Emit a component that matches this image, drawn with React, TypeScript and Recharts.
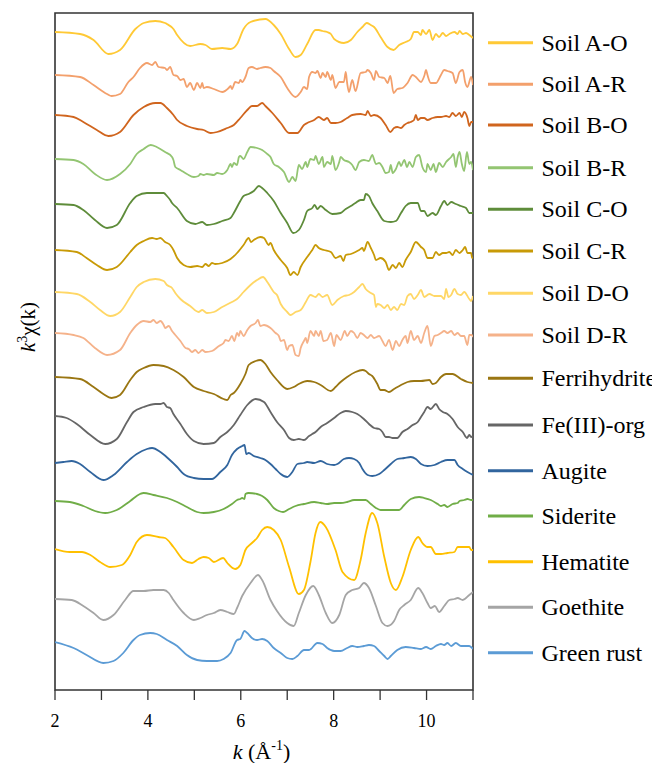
import React from "react";
import { LineChart, Line, XAxis, YAxis, ReferenceArea } from "recharts";

const FONT = "'Liberation Serif', 'Times New Roman', 'DejaVu Serif', serif";

// ---- categories / labels ----
const seriesNames = [
  "Soil A-O", "Soil A-R", "Soil B-O", "Soil B-R", "Soil C-O", "Soil C-R", "Soil D-O", "Soil D-R",
  "Ferrihydrite", "Fe(III)-org", "Augite", "Siderite", "Hematite", "Goethite", "Green rust",
];
const seriesColors = [
  "#FFC935", "#F3A06C", "#D0651E", "#93C572", "#5E8C3A", "#C89A06", "#FFD766", "#F5B28A",
  "#9A7612", "#666666", "#31659E", "#70AD47", "#FFC000", "#A5A5A5", "#5B9BD5",
];
// vertical offset of each spectrum (stacking baseline)
const baselines = [658, 615, 575, 531, 486, 440, 398, 357, 313, 274, 227, 189, 141, 91, 48];
const kTicks = [2, 3, 4, 5, 6, 7, 8, 9, 10, 11];
const kLabels = [2, 4, 6, 8, 10];

// ---- spectra: k (Å^-1) and k^3 chi(k) (arbitrary units, relative to baseline) ----
const soilAO_k = [2,2.54,2.83,3.15,3.4,3.73,3.91,4.16,4.37,4.41,4.55,4.63,4.91,5.13,5.24,5.38,5.6,5.78,5.92,6.06,6.21,6.53,6.71,6.86,7.04,7.18,7.29,7.43,7.61,7.68,7.76,7.86,7.94,8.01,8.22,8.37,8.51,8.62,8.71,8.8,8.87,9.01,9.16,9.29,9.41,9.55,9.66,9.73,9.81,9.88,9.91,9.99,10.06,10.13,10.2,10.27,10.35,10.42,10.49,10.6,10.67,10.71,10.78,10.85,10.92,11];
const soilAO_v = [0,-2,-8,-22,-18,3,9,11,9,8,3,-3,-14,-12,-13,-17,-16,-17,-12,3,10,13,7,-2,-17,-25,-23,-12,2,2,1,0,-2,-7,-11,-8,0,5,9,7,5,-5,-15,-18,-13,-10,-7,0,0,-3,2,-2,2,-8,-2,-5,-1,-4,-2,0,-2,1,-2,-1,-3,-6];

const soilAR_k = [2,2.54,2.83,3.12,3.22,3.4,3.58,3.69,3.83,3.98,4.09,4.16,4.23,4.37,4.41,4.48,4.55,4.63,4.7,4.77,4.84,4.91,4.99,5.06,5.13,5.17,5.2,5.27,5.42,5.6,5.74,5.78,5.81,5.88,5.96,5.99,6.03,6.1,6.17,6.24,6.35,6.42,6.53,6.64,6.71,6.86,7.0,7.18,7.29,7.36,7.43,7.47,7.54,7.61,7.65,7.72,7.76,7.83,7.86,7.94,7.97,8.04,8.12,8.22,8.26,8.29,8.33,8.4,8.47,8.58,8.69,8.73,8.8,8.87,8.91,8.98,9.09,9.16,9.22,9.29,9.37,9.48,9.59,9.7,9.77,9.88,9.95,9.99,10.02,10.09,10.2,10.31,10.38,10.45,10.56,10.63,10.71,10.78,10.83,10.88,10.96,11];
const soilAR_v = [0,-2,-10,-19,-21,-19,-7,-2,7,12,10,13,8,7,5,8,0,-1,-5,-4,-12,-8,-15,-8,-13,-8,-13,-12,-14,-17,-13,-11,-14,-7,-8,-5,-7,-2,7,8,6,7,8,7,4,-2,-13,-22,-17,-12,-14,-2,3,2,4,-3,2,-2,3,-5,0,-13,-7,-7,3,-8,-17,-5,-16,2,3,5,2,-5,4,-2,-3,-8,-1,-18,-14,-13,-8,0,-2,-7,-1,5,0,-8,-8,0,5,4,2,-8,3,5,-7,-12,-2,-10];

const soilBO_k = [2,2.4,2.61,2.9,3.15,3.4,3.69,3.91,4.16,4.27,4.41,4.55,4.63,4.84,5.06,5.2,5.35,5.49,5.71,5.85,5.99,6.14,6.24,6.35,6.46,6.53,6.68,6.86,7.04,7.22,7.36,7.43,7.58,7.68,7.79,7.86,7.94,8.04,8.15,8.29,8.4,8.58,8.69,8.73,8.8,8.87,9.01,9.12,9.22,9.3,9.37,9.45,9.52,9.59,9.66,9.73,9.77,9.81,9.88,9.95,10.02,10.13,10.24,10.31,10.42,10.49,10.56,10.63,10.71,10.76,10.81,10.88,10.92,10.96,11];
const soilBO_v = [0,-2,-7,-15,-21,-17,0,8,12,12,7,0,-5,-11,-14,-15,-18,-17,-13,-10,-3,5,9,9,12,9,2,-8,-18,-18,-10,-8,-5,-2,-5,-3,-8,-8,-7,-3,0,1,0,4,-1,0,-3,-10,-17,-13,-12,-13,-10,-8,-7,-5,0,-5,-3,-3,-5,-3,-2,-2,-1,-2,2,-1,2,-2,3,-3,-11,-7,-7];

const soilBR_k = [2,2.4,2.61,2.86,3.12,3.4,3.62,3.76,3.91,4.06,4.19,4.37,4.52,4.55,4.59,4.7,4.84,4.99,5.09,5.13,5.2,5.27,5.42,5.49,5.6,5.71,5.78,5.81,5.85,5.92,5.96,5.99,6.06,6.14,6.21,6.35,6.46,6.57,6.64,6.71,6.82,6.93,7.04,7.11,7.18,7.25,7.32,7.4,7.43,7.5,7.58,7.61,7.68,7.76,7.79,7.86,7.94,7.97,8.04,8.12,8.15,8.22,8.33,8.4,8.47,8.55,8.65,8.76,8.83,8.91,8.98,9.05,9.12,9.19,9.23,9.27,9.34,9.41,9.45,9.52,9.58,9.63,9.7,9.77,9.84,9.91,9.99,10.02,10.09,10.15,10.2,10.27,10.35,10.42,10.53,10.58,10.63,10.67,10.71,10.76,10.81,10.87,10.92,10.96,11];
const soilBR_v = [0,-1,-5,-15,-21,-15,-5,5,10,14,12,7,2,-1,-8,-11,-15,-18,-17,-15,-16,-15,-16,-14,-15,-11,-5,-8,-4,-6,2,3,0,7,12,11,9,5,2,-5,-8,-13,-23,-18,-22,-6,-10,-3,-8,0,-1,3,-5,2,-8,-3,-5,3,-11,-3,2,-1,-3,-6,-11,-3,-1,-2,4,-5,-4,-8,-14,-13,-6,-14,-10,-3,-7,-1,-8,-3,-8,2,4,-8,-13,-5,-11,-5,-13,-4,-8,-3,2,5,-8,2,7,-5,-12,7,-5,-3,-11];

const soilCO_k = [2,2.4,2.61,2.86,3.12,3.33,3.62,3.76,3.98,4.34,4.41,4.48,4.52,4.63,4.84,5.02,5.17,5.27,5.42,5.6,5.78,5.85,5.99,6.06,6.17,6.28,6.39,6.46,6.57,6.71,6.86,7.0,7.13,7.25,7.36,7.43,7.54,7.59,7.65,7.72,7.83,7.97,8.15,8.26,8.37,8.47,8.58,8.65,8.69,8.76,8.83,8.94,9.09,9.23,9.34,9.45,9.55,9.66,9.81,9.88,9.95,10.02,10.13,10.2,10.31,10.38,10.45,10.53,10.63,10.74,10.85,10.92,11];
const soilCO_v = [0,-1,-6,-16,-24,-21,1,8,11,11,8,4,1,-4,-17,-20,-18,-21,-20,-17,-14,-9,3,8,10,13,18,16,11,3,-9,-19,-29,-26,-16,-7,-4,-1,-5,-2,-6,-10,-9,-5,-2,1,4,4,10,8,1,-7,-17,-18,-17,-9,-2,1,1,-7,-7,-12,-9,-11,-2,3,-1,2,0,-2,-4,-9,-9];

const soilCR_k = [2,2.47,2.68,2.9,3.12,3.33,3.62,3.76,3.91,4.09,4.19,4.27,4.37,4.48,4.55,4.63,4.77,4.91,5.06,5.17,5.24,5.31,5.38,5.45,5.6,5.78,5.92,6.06,6.17,6.22,6.28,6.42,6.5,6.6,6.64,6.71,6.86,7.0,7.07,7.14,7.22,7.29,7.43,7.54,7.61,7.68,7.79,7.94,8.04,8.15,8.21,8.26,8.37,8.47,8.55,8.62,8.65,8.73,8.8,8.87,8.91,9.01,9.12,9.19,9.27,9.34,9.41,9.48,9.55,9.66,9.77,9.88,9.95,10.02,10.13,10.2,10.27,10.35,10.42,10.49,10.56,10.63,10.71,10.78,10.83,10.88,10.96,10.98,11];
const soilCR_v = [0,-2,-8,-15,-20,-17,-2,5,9,12,11,12,8,5,0,-8,-15,-17,-16,-17,-14,-16,-13,-14,-13,-9,-3,5,12,8,10,13,12,5,7,0,-10,-18,-25,-22,-25,-17,-7,0,5,2,0,-2,-8,-6,-11,-5,-4,-2,0,2,-1,8,2,-5,-10,-8,-12,-20,-15,-18,-13,-17,-10,-2,8,3,0,-8,-8,-2,-5,-3,-3,-2,-5,0,-3,0,3,-3,-3,-8,-7];

const soilDO_k = [2,2.47,2.76,2.97,3.19,3.4,3.62,3.76,3.91,4.16,4.34,4.41,4.52,4.59,4.7,4.91,5.09,5.17,5.27,5.42,5.6,5.81,5.92,6.06,6.21,6.35,6.48,6.57,6.64,6.71,6.78,6.86,7.0,7.07,7.18,7.29,7.4,7.5,7.61,7.68,7.76,7.86,7.97,8.08,8.22,8.33,8.44,8.55,8.62,8.69,8.8,8.87,8.91,8.94,9.01,9.09,9.16,9.23,9.3,9.37,9.45,9.52,9.59,9.66,9.73,9.81,9.88,9.95,10.06,10.17,10.31,10.38,10.42,10.47,10.53,10.6,10.67,10.74,10.81,10.92,10.96,11];
const soilDO_v = [0,-2,-10,-18,-24,-20,-5,5,10,13,11,7,4,-1,-7,-14,-20,-18,-21,-20,-15,-10,-7,0,7,12,15,10,5,0,-3,-12,-20,-23,-20,-18,-10,-3,-5,-2,-5,-3,-13,-8,-4,-3,0,5,8,3,-1,-3,-15,-12,-13,-16,-13,-18,-15,-18,-12,-13,-4,-2,-7,-3,2,-5,-2,-4,-4,-7,3,-5,-3,3,-2,-3,0,-7,-9,-4];

const soilDR_k = [2,2.4,2.61,2.86,3.12,3.4,3.62,3.76,3.91,4.05,4.12,4.19,4.27,4.34,4.37,4.45,4.52,4.59,4.7,4.81,4.88,4.95,5.02,5.09,5.17,5.24,5.38,5.53,5.63,5.67,5.74,5.81,5.86,5.92,5.96,5.99,6.06,6.14,6.21,6.32,6.37,6.42,6.5,6.64,6.75,6.82,6.86,6.93,7.0,7.04,7.11,7.18,7.25,7.29,7.36,7.4,7.43,7.5,7.58,7.61,7.68,7.72,7.78,7.86,7.94,8.01,8.06,8.15,8.24,8.29,8.37,8.44,8.51,8.58,8.65,8.73,8.8,8.87,8.98,9.05,9.12,9.19,9.27,9.34,9.41,9.48,9.55,9.59,9.66,9.73,9.81,9.88,9.95,10.02,10.09,10.17,10.24,10.31,10.38,10.45,10.53,10.6,10.67,10.74,10.81,10.88,10.92,10.97,11];
const soilDR_v = [0,-2,-5,-15,-22,-17,0,8,12,11,13,10,12,8,5,7,2,-2,-8,-15,-16,-19,-17,-20,-17,-19,-18,-13,-10,-7,-8,-3,-8,0,-3,2,-3,3,7,10,13,7,8,5,0,-3,-8,-7,-17,-13,-12,-22,-23,-15,-8,-5,-10,2,-3,2,-3,2,-8,-7,0,-13,-2,-7,2,-3,2,0,-5,0,-2,-5,-2,-5,-3,-8,-13,-7,-17,-8,-13,-7,-3,-10,2,-7,-3,-10,0,7,-13,-3,-2,0,2,0,2,-2,0,-3,-3,-12,-2,-2,-4];

const ferri_k = [2,2.54,2.83,3.04,3.22,3.4,3.62,3.76,3.91,4.12,4.34,4.55,4.77,4.99,5.2,5.42,5.63,5.71,5.78,5.85,5.99,6.1,6.17,6.32,6.42,6.53,6.64,6.78,7.0,7.14,7.25,7.43,7.58,7.72,7.94,8.04,8.15,8.29,8.47,8.62,8.69,8.76,8.83,8.94,9.01,9.09,9.19,9.3,9.45,9.59,9.73,9.88,10.06,10.13,10.2,10.31,10.42,10.56,10.74,10.88,11];
const ferri_v = [0,-2,-10,-17,-21,-18,-3,5,9,12,11,7,0,-10,-14,-17,-22,-23,-18,-16,-7,3,12,16,17,13,5,-3,-12,-10,-7,-4,-5,-8,-14,-10,-5,0,5,7,6,3,1,-7,-13,-13,-15,-12,-8,-5,-4,-4,-3,-7,-6,0,3,3,-2,-5,-6];

const feorg_k = [2,2.25,2.47,2.76,3.08,3.33,3.55,3.69,3.91,4.16,4.27,4.34,4.41,4.48,4.55,4.7,4.84,4.99,5.2,5.42,5.56,5.71,5.85,5.99,6.14,6.32,6.5,6.64,6.78,6.93,7.04,7.14,7.25,7.36,7.47,7.54,7.61,7.72,7.86,8.01,8.15,8.26,8.4,8.51,8.65,8.76,8.87,8.98,9.05,9.12,9.19,9.27,9.37,9.48,9.59,9.7,9.81,9.88,9.95,10.02,10.09,10.2,10.27,10.35,10.45,10.56,10.67,10.78,10.87,10.92,10.96,11];
const feorg_v = [0,-2,-8,-19,-28,-23,-6,4,9,12,12,13,9,8,2,-8,-18,-25,-28,-27,-21,-16,-9,1,11,17,14,4,-6,-14,-22,-24,-23,-24,-20,-18,-16,-11,-7,-2,3,5,4,2,-3,-8,-12,-13,-16,-21,-21,-22,-22,-16,-13,-9,-6,-1,4,9,7,12,7,4,2,-3,-11,-16,-22,-19,-21,-20];

const augite_k = [2,2.18,2.36,2.54,2.76,3.04,3.26,3.55,3.76,3.98,4.09,4.27,4.45,4.63,4.77,4.99,5.2,5.38,5.56,5.71,5.81,5.92,6.03,6.08,6.12,6.17,6.28,6.42,6.53,6.64,6.75,6.86,7.0,7.11,7.22,7.36,7.43,7.58,7.72,7.86,8.01,8.08,8.22,8.33,8.44,8.55,8.62,8.73,8.83,8.98,9.09,9.23,9.37,9.52,9.66,9.77,9.88,10.02,10.17,10.31,10.45,10.6,10.67,10.78,10.88,11];
const augite_v = [0,1,2,-1,-9,-17,-12,1,9,14,15,11,4,-4,-11,-15,-16,-16,-9,-2,8,14,17,18,9,10,7,5,3,-1,-6,-11,-14,-9,-1,0,1,0,2,-1,-2,-1,4,5,4,0,-6,-12,-13,-11,-7,-1,4,5,6,4,-1,-3,-2,1,3,3,-2,-6,-9,-12];

const siderite_k = [2,2.32,2.61,2.86,3.08,3.33,3.62,3.83,3.91,4.12,4.41,4.63,4.84,5.06,5.2,5.42,5.63,5.81,5.92,5.99,6.03,6.08,6.1,6.17,6.35,6.46,6.57,6.71,6.82,6.91,7.04,7.18,7.36,7.58,7.72,7.86,8.01,8.15,8.29,8.44,8.58,8.69,8.8,8.91,9.01,9.16,9.3,9.41,9.52,9.66,9.84,9.95,10.09,10.24,10.31,10.38,10.45,10.56,10.67,10.71,10.81,10.88,10.96,11];
const siderite_v = [0,-1,-5,-10,-12,-9,0,7,8,6,3,-1,-6,-11,-12,-11,-8,-3,1,2,3,2,7,8,7,5,1,-7,-10,-11,-8,-5,-3,-1,-2,-3,-2,-2,-1,1,1,1,-3,-7,-9,-9,-9,-9,-4,2,4,3,1,-3,-5,-4,-6,-3,-2,0,1,2,1,1];

const hematite_k = [2,2.32,2.58,2.76,2.97,3.19,3.44,3.62,3.76,3.98,4.23,4.37,4.55,4.77,4.95,5.09,5.2,5.31,5.42,5.62,5.71,5.88,5.99,6.1,6.24,6.35,6.46,6.57,6.71,6.86,7.04,7.25,7.36,7.5,7.61,7.71,7.83,8.04,8.19,8.44,8.58,8.69,8.83,8.94,9.09,9.23,9.34,9.48,9.66,9.82,9.91,10.02,10.09,10.2,10.31,10.45,10.6,10.67,10.78,10.92,10.96,11];
const hematite_v = [0,-3,-3,-6,-13,-18,-16,-6,7,14,12,11,2,-11,-14,-10,-8,-9,-13,-9,-14,-20,-16,-1,6,11,19,22,19,9,-18,-45,-41,-13,16,27,22,-1,-23,-31,-11,16,36,26,-8,-34,-41,-28,-1,12,6,2,2,-5,-5,-4,-3,2,2,2,-1,-1];

const goethite_k = [2,2.36,2.61,2.83,3.04,3.26,3.51,3.69,3.91,4.12,4.34,4.45,4.55,4.77,4.99,5.13,5.27,5.42,5.56,5.71,5.85,5.92,6.03,6.21,6.37,6.46,6.64,6.78,7.0,7.14,7.25,7.4,7.56,7.68,7.83,7.97,8.12,8.26,8.4,8.55,8.65,8.76,8.91,9.05,9.16,9.3,9.41,9.52,9.66,9.82,9.91,10.02,10.09,10.18,10.27,10.38,10.49,10.6,10.67,10.78,10.92,11];
const goethite_v = [0,-1,-7,-14,-21,-16,-1,8,8,9,9,6,-1,-14,-21,-19,-16,-14,-11,-13,-15,-9,3,16,24,19,-1,-12,-24,-27,-14,4,13,4,-14,-24,-16,4,9,11,16,11,-7,-24,-27,-22,-11,-6,-1,11,6,-4,-9,-7,-13,-7,-1,0,1,-1,4,7];

const greenrust_k = [2,2.4,2.68,3.04,3.26,3.47,3.69,3.83,4.05,4.19,4.41,4.63,4.84,5.06,5.27,5.49,5.63,5.78,5.92,5.99,6.08,6.14,6.24,6.35,6.46,6.57,6.71,6.86,7.0,7.11,7.22,7.36,7.47,7.65,7.76,7.86,8.01,8.15,8.29,8.4,8.51,8.65,8.76,8.87,8.98,9.09,9.16,9.23,9.37,9.55,9.73,9.88,9.99,10.09,10.2,10.31,10.38,10.45,10.53,10.63,10.74,10.85,10.92,11];
const greenrust_v = [0,-6,-13,-21,-19,-11,2,7,9,8,2,-4,-13,-18,-19,-19,-17,-11,2,3,11,9,4,2,3,1,-6,-11,-16,-17,-14,-8,-8,-1,-2,-6,-9,-9,-6,-4,-5,-4,-3,-4,-9,-14,-17,-14,-8,-5,-6,-7,-5,-7,-4,-2,-3,-1,-4,-1,-4,-4,-4,-7];

const seriesK = [soilAO_k, soilAR_k, soilBO_k, soilBR_k, soilCO_k, soilCR_k, soilDO_k, soilDR_k, ferri_k, feorg_k, augite_k, siderite_k, hematite_k, goethite_k, greenrust_k];
const seriesV = [soilAO_v, soilAR_v, soilBO_v, soilBR_v, soilCO_v, soilCR_v, soilDO_v, soilDR_v, ferri_v, feorg_v, augite_v, siderite_v, hematite_v, goethite_v, greenrust_v];

// ---- layout ----
const W = 652;
const H = 755;
const Y_MAX = 677;
const LEGEND_Y = [34.7, 76.3, 117, 159.7, 201.3, 243, 285.3, 327, 370.3, 417, 462.7, 508, 553.7, 599.3, 644.7];
const textStyle = { fontFamily: FONT } as React.CSSProperties;

function Tick(props: any) {
  const { x, y, payload } = props;
  if (!kLabels.includes(payload.value)) return <g />;
  return (
    <text x={x} y={y} dy="0.71em" textAnchor="middle" style={textStyle} fontSize={18} fill="#000">
      {payload.value}
    </text>
  );
}

export default function App() {
  const lines = seriesNames.map((name, i) => {
    const ks = seriesK[i];
    const vs = seriesV[i];
    const n = Math.min(ks.length, vs.length);
    const data = [] as { k: number; v: number }[];
    for (let j = 0; j < n; j++) data.push({ k: ks[j], v: baselines[i] + vs[j] });
    return { name, color: seriesColors[i], data };
  });

  return (
    <div style={{ position: "relative", width: W, height: H, fontFamily: FONT }}>
      <LineChart width={W} height={H} margin={{ top: 5, right: 187, bottom: 0, left: 47 }}>
        <XAxis
          type="number"
          dataKey="k"
          domain={[2, 11]}
          ticks={kTicks}
          interval={0}
          allowDataOverflow
          height={73}
          axisLine={false}
          tickSize={10}
          tickMargin={14}
          tickLine={{ stroke: "#333", strokeWidth: 1.3 }}
          tick={<Tick />}
        />
        <YAxis type="number" domain={[0, Y_MAX]} hide allowDataOverflow />
        {lines.map((s) => (
          <Line
            key={s.name}
            data={s.data}
            dataKey="v"
            name={s.name}
            type="monotone"
            stroke={s.color}
            strokeWidth={1.8}
            dot={false}
            activeDot={false}
            isAnimationActive={false}
          />
        ))}
        <ReferenceArea
          x1={2}
          x2={11}
          y1={0}
          y2={Y_MAX}
          fill="none"
          fillOpacity={0}
          stroke="#333"
          strokeWidth={1.6}
          ifOverflow="visible"
        />
      </LineChart>
      <svg
        width={W}
        height={H}
        style={{ position: "absolute", left: 0, top: 0, pointerEvents: "none" }}
      >
        {seriesNames.map((name, i) => (
          <g key={name}>
            <line x1={480} x2={525} y1={LEGEND_Y[i]} y2={LEGEND_Y[i]} stroke={seriesColors[i]} strokeWidth={3} />
            <text x={533.5} y={LEGEND_Y[i] + 8} style={textStyle} fontSize={24} fill="#000">
              {name}
            </text>
          </g>
        ))}
        <text x={253.5} y={751} textAnchor="middle" style={textStyle} fontSize={22} fill="#000">
          <tspan fontStyle="italic">k</tspan>
          <tspan> (Å</tspan>
          <tspan dy={-9} fontSize={14}>-1</tspan>
          <tspan dy={9}>)</tspan>
        </text>
        <text
          x={27}
          y={319}
          transform="rotate(-90, 27, 319)"
          textAnchor="middle"
          style={textStyle}
          fontSize={21}
          fill="#000"
        >
          <tspan fontStyle="italic">k</tspan>
          <tspan dy={-8} fontSize={14}>3</tspan>
          <tspan dy={8}>χ(k)</tspan>
        </text>
      </svg>
    </div>
  );
}
